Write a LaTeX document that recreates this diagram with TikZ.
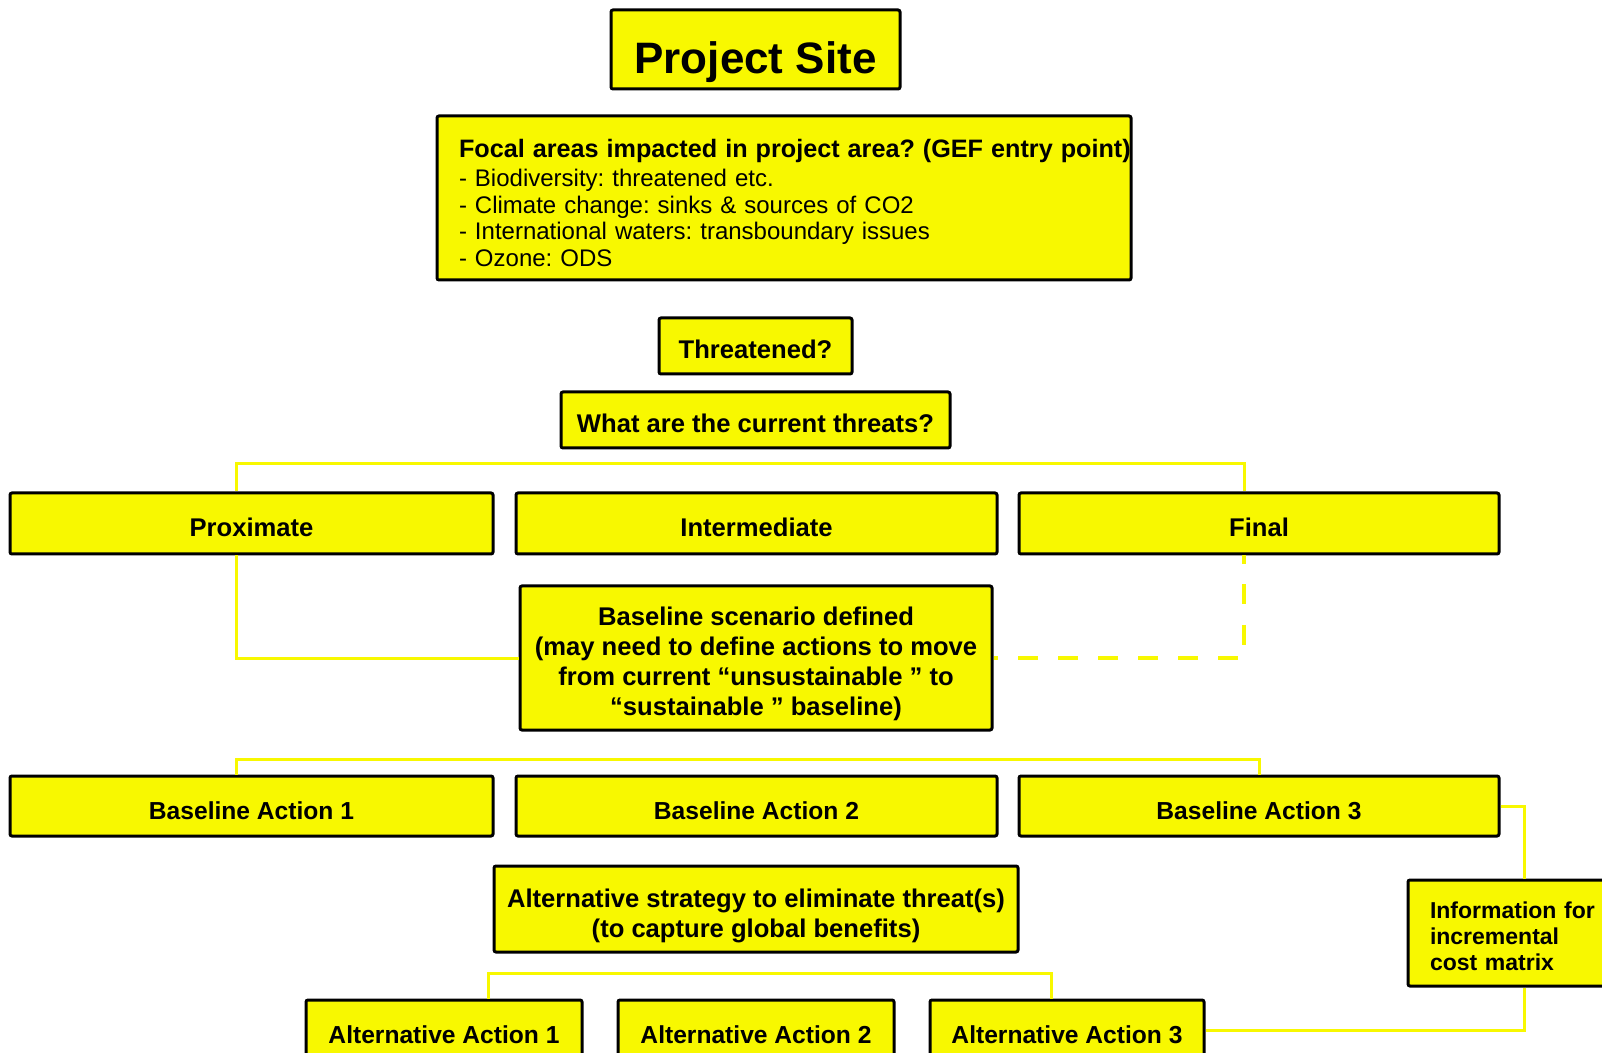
\documentclass[tikz,border=0pt]{standalone}
\usepackage{fontspec}
\setmainfont{Liberation Sans}
\frenchspacing
\definecolor{boxyellow}{RGB}{248,248,0}

\begin{document}
\begin{tikzpicture}[x=0.5pt,y=-0.5pt]
    \useasboundingbox (0,0) rectangle (1602,1053);

    \begin{scope}[every node/.style={rectangle,draw=black,line width=1.5pt,fill=boxyellow,rounded corners=1pt,inner sep=0pt,align=center,font=\bfseries\fontsize{12.8}{15}\selectfont},
                  oneline/.style={text height=13pt,text depth=0pt}]
        \node[minimum width=144.5pt,minimum height=39.5pt,text height=24.5pt,text depth=0pt,font=\bfseries\fontsize{22}{26}\selectfont] (site) at (755.5,49.5) {Project Site};
        \node[text width=325pt,inner xsep=11pt,minimum height=82pt,align=left,font=\fontsize{12}{13.3}\selectfont] (focal) at (784,198)
            {\mbox{\bfseries\fontsize{12.6}{13.3}\selectfont\rule{0pt}{14.3pt}Focal areas impacted in project area? (GEF entry point)}\\[1.2pt]
             - Biodiversity: threatened etc.\\
             - Climate change: sinks \& sources of CO2\\
             - International waters: transboundary issues\\
             - Ozone: ODS};
        \node[oneline,minimum width=96.5pt,minimum height=28pt] (threat) at (755.5,346) {Threatened?};
        \node[oneline,minimum width=194.5pt,minimum height=28pt] (current) at (755.5,420) {What are the current threats?};

        % Threat levels %
        \node[oneline,minimum width=241.5pt,minimum height=30.5pt] (prox) at (251.5,523.5) {Proximate};
        \node[oneline,minimum width=240.5pt,minimum height=30.5pt] (inter) at (756.5,523.5) {Intermediate};
        \node[oneline,minimum width=240pt,minimum height=30.5pt] (final) at (1259,523.5) {Final};

        \node[minimum width=236pt,minimum height=72pt] (base) at (756,658)
            {\rule{0pt}{15.3pt}Baseline scenario defined\\
             (may need to define actions to move\\
             from current “unsustainable ” to\\
             “sustainable ” baseline)};

        % Baseline actions %
        \node[oneline,minimum width=241.5pt,minimum height=30pt,font=\bfseries\fontsize{12.3}{15}\selectfont] (ba1) at (251.5,806) {Baseline Action 1};
        \node[oneline,minimum width=240.5pt,minimum height=30pt,font=\bfseries\fontsize{12.3}{15}\selectfont] (ba2) at (756.5,806) {Baseline Action 2};
        \node[oneline,minimum width=240pt,minimum height=30pt,font=\bfseries\fontsize{12.3}{15}\selectfont] (ba3) at (1259,806) {Baseline Action 3};

        \node[minimum width=262pt,minimum height=43pt] (alt) at (756,909)
            {\rule{0pt}{16.5pt}Alternative strategy to eliminate threat(s)\\
             (to capture global benefits)};

        % Alternative actions %
        \node[oneline,minimum width=138pt,minimum height=30pt,font=\bfseries\fontsize{12.3}{15}\selectfont] (aa1) at (444,1030) {Alternative Action 1};
        \node[oneline,minimum width=138pt,minimum height=30pt,font=\bfseries\fontsize{12.3}{15}\selectfont] (aa2) at (756,1030) {Alternative Action 2};
        \node[oneline,minimum width=137pt,minimum height=30pt,font=\bfseries\fontsize{12.3}{15}\selectfont] (aa3) at (1067,1030) {Alternative Action 3};

        \node[text width=94pt,inner xsep=11pt,minimum height=53pt,align=left,font=\bfseries\fontsize{11.5}{13}\selectfont] (info) at (1524,933)
            {\rule{0pt}{11.4pt}Information for\\ incremental\\ cost matrix};
    \end{scope}

    \begin{scope}[every path/.style={draw=boxyellow,line width=1.5pt}]
        % Threat tree %
        \draw ([xshift=-7.5pt]prox.north) -- ++(0,-28) -| ([xshift=-7.5pt]final.north);
        \draw ([xshift=-7.5pt]prox.south) |- (base.west);
        \draw[line width=2pt,dash pattern=on 10pt off 10pt,dash phase=5.5pt] ([xshift=-7.5pt]final.south) |- (base.east);

        % Action trees %
        \draw ([xshift=-7.5pt]ba1.north) -- ++(0,-15) -| (ba3.north);
        \draw ([xshift=22pt]aa1.north) -- ++(0,-25) -| ([xshift=-8pt]aa3.north);

        % Cost matrix %
        \draw (ba3.east) -| (info.north);
        \draw (info.south) |- (aa3.east);
    \end{scope}

\end{tikzpicture}
\end{document}
